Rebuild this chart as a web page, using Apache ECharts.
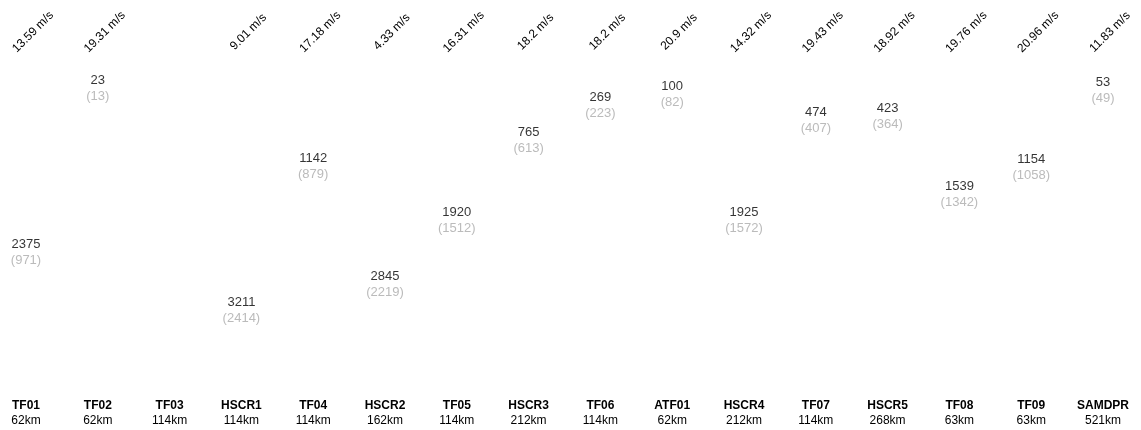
<!DOCTYPE html>
<html>
<head>
<meta charset="utf-8">
<script src="https://cdn.jsdelivr.net/npm/echarts@6/dist/echarts.min.js"></script>
<style>html,body{margin:0;padding:0;background:#fff;}#chart{width:1141px;height:430px;}</style>
</head>
<body>
<div id="chart"></div>
<script>
var categories = ['TF01','TF02','TF03','HSCR1','TF04','HSCR2','TF05','HSCR3','TF06','ATF01','HSCR4','TF07','HSCR5','TF08','TF09','SAMDPR'];
var distances = ['62km','62km','114km','114km','114km','162km','114km','212km','114km','62km','212km','114km','268km','63km','63km','521km'];
var speeds = ['13.59','19.31',null,'9.01','17.18','4.33','16.31','18.2','18.2','20.9','14.32','19.43','18.92','19.76','20.96','11.83'];
var totals = [2375, 23, null, 3211, 1142, 2845, 1920, 765, 269, 100, 1925, 474, 423, 1539, 1154, 53];
var subs = [971, 13, null, 2414, 879, 2219, 1512, 613, 223, 82, 1572, 407, 364, 1342, 1058, 49];

var font = 'Liberation Sans, Arial, sans-serif';
var chart = echarts.init(document.getElementById('chart'));
var data = totals.map(function (v, i) {
  return v == null ? null : { value: [i, v], sub: subs[i] };
});
chart.setOption({
  animation: false,
  grid: [
    { left: 26, width: 1077, top: 87, height: 278 },
    { left: 33, width: 1077, top: 31, height: 1 }
  ],
  xAxis: [
    {
      gridIndex: 0, type: 'category', data: categories, boundaryGap: false,
      axisLine: { show: false }, axisTick: { show: false }, splitLine: { show: false },
      axisLabel: {
        interval: 0, margin: 33, fontFamily: font, lineHeight: 15,
        formatter: function (v, i) { return '{b|' + v + '}\n{d|' + distances[i] + '}'; },
        rich: {
          b: { fontWeight: 'bold', fontSize: 12, color: '#000', fontFamily: font, lineHeight: 15 },
          d: { fontSize: 12, color: '#000', fontFamily: font, lineHeight: 15 }
        }
      }
    },
    {
      gridIndex: 1, type: 'category', data: categories, boundaryGap: false,
      axisLine: { show: false }, axisTick: { show: false }, splitLine: { show: false },
      axisLabel: {
        interval: 0, margin: 0, rotate: 45, align: 'center', verticalAlign: 'middle',
        fontFamily: font, fontSize: 12, color: '#000',
        formatter: function (v, i) { return speeds[i] == null ? '' : speeds[i] + ' m/s'; }
      }
    }
  ],
  yAxis: [
    { gridIndex: 0, type: 'value', min: 0, max: 4000, inverse: true, show: false },
    { gridIndex: 1, type: 'value', min: 0, max: 1, show: false }
  ],
  series: [{
    type: 'scatter', xAxisIndex: 0, yAxisIndex: 0, symbolSize: 0,
    data: data,
    label: {
      show: true, position: 'inside', fontFamily: font,
      formatter: function (p) { return '{a|' + p.value[1] + '}\n{s|(' + p.data.sub + ')}'; },
      rich: {
        a: { fontSize: 13, color: '#000', fontFamily: font, lineHeight: 16 },
        s: { fontSize: 13, color: '#aaa', fontFamily: font, lineHeight: 16 }
      }
    }
  }]
});
</script>
</body>
</html>
